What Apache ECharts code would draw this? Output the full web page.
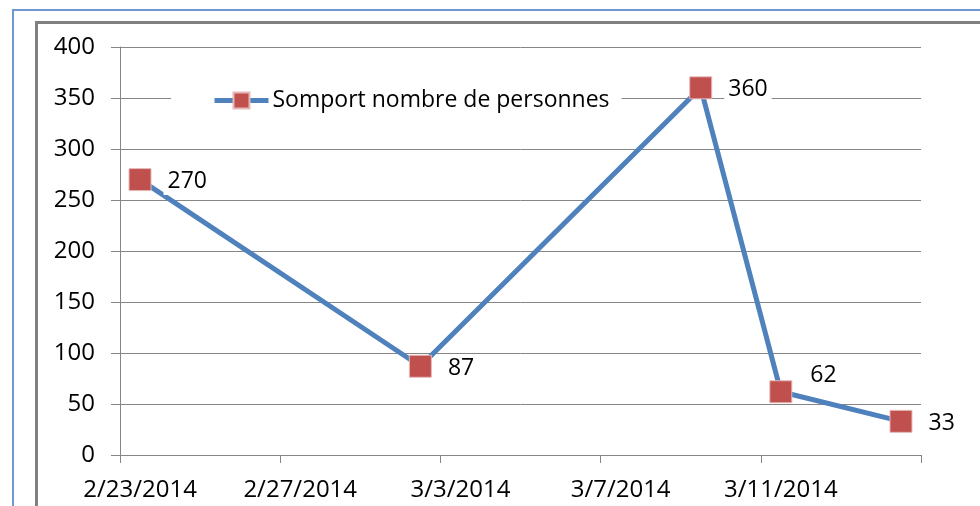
<!DOCTYPE html>
<html>
<head>
<meta charset="utf-8">
<script src="https://cdn.jsdelivr.net/npm/echarts@6/dist/echarts.min.js"></script>
<style>
  html, body { margin: 0; padding: 0; background: #fff; }
  #chart { width: 980px; height: 506px; }
</style>
</head>
<body>
<div id="chart"></div>
<script>
// Daily axis range (one slot per day)
const firstDay = '2014-02-23';
const lastDay = '2014-03-14';

// Measured days and head counts
const measureDates = ['2014-02-23', '2014-03-02', '2014-03-09', '2014-03-11', '2014-03-14'];
const headCounts = [270, 87, 360, 62, 33];

const seriesName = 'Somport nombre de personnes';
const yTicks = { min: 0, max: 400, step: 50 };

// Build the list of days as M/D/YYYY labels
function fmt(d) {
  return (d.getUTCMonth() + 1) + '/' + d.getUTCDate() + '/' + d.getUTCFullYear();
}
const days = [];
const dayKeys = [];
for (let d = new Date(firstDay + 'T00:00:00Z'); d <= new Date(lastDay + 'T00:00:00Z'); d.setUTCDate(d.getUTCDate() + 1)) {
  days.push(fmt(d));
  dayKeys.push(d.toISOString().slice(0, 10));
}
const lineData = dayKeys.map(k => {
  const i = measureDates.indexOf(k);
  if (i < 0) return null;
  // the 3/11 label sits a little higher so it clears the falling line
  if (k === '2014-03-11') {
    return { value: headCounts[i], label: { offset: [2, -16], backgroundColor: 'transparent' } };
  }
  return headCounts[i];
});

const FONT = '"Open Sans", sans-serif';
const AXIS_GREY = '#868686';

const chart = echarts.init(document.getElementById('chart'));
chart.setOption({
  animation: false,
  backgroundColor: '#fff',
  textStyle: { fontFamily: FONT },
  graphic: [
    {
      type: 'rect',
      shape: { x: 13, y: 10, width: 1000, height: 520 },
      style: { fill: 'none', stroke: '#6f98d0', lineWidth: 2 },
      silent: true
    },
    {
      type: 'rect',
      shape: { x: 36.5, y: 22.5, width: 1000, height: 520 },
      style: { fill: 'none', stroke: '#808080', lineWidth: 3 },
      silent: true
    }
  ],
  grid: { left: 120, right: 59, top: 47, bottom: 51, containLabel: false },
  legend: {
    left: 171,
    top: 83,
    padding: [6, 12, 6, 41],
    backgroundColor: '#fff',
    itemWidth: 54,
    itemHeight: 20,
    itemGap: 4,
    lineStyle: { width: 5 },
    textStyle: { fontFamily: FONT, fontSize: 23, color: '#000', padding: [0, 0, 0, -1] },
    data: [seriesName]
  },
  xAxis: {
    type: 'category',
    data: days,
    boundaryGap: true,
    axisLine: { lineStyle: { color: AXIS_GREY, width: 1 } },
    axisTick: { show: true, interval: 3, length: 8, lineStyle: { color: AXIS_GREY } },
    axisLabel: { interval: 3, margin: 23, fontFamily: FONT, fontSize: 24, color: '#000' },
    splitLine: { show: false }
  },
  yAxis: {
    type: 'value',
    min: yTicks.min,
    max: yTicks.max,
    interval: yTicks.step,
    axisLine: { show: true, lineStyle: { color: AXIS_GREY, width: 1 } },
    axisTick: { show: true, length: 9, lineStyle: { color: AXIS_GREY } },
    axisLabel: { margin: 25, fontFamily: FONT, fontSize: 24, color: '#000' },
    splitLine: { show: true, lineStyle: { color: AXIS_GREY, width: 1 } }
  },
  series: [{
    name: seriesName,
    type: 'line',
    data: lineData,
    connectNulls: true,
    symbol: 'rect',
    symbolSize: 22,
    lineStyle: { color: '#4f81bd', width: 5 },
    itemStyle: { color: '#c0504d', borderColor: '#e6b9b8', borderWidth: 1 },
    label: {
      show: true,
      position: 'right',
      distance: 12,
      offset: [0, 2],
      fontFamily: FONT,
      fontSize: 23,
      color: '#000',
      backgroundColor: '#fff',
      padding: [2, 4, 2, 4]
    },
    z: 3
  }]
});
</script>
</body>
</html>
